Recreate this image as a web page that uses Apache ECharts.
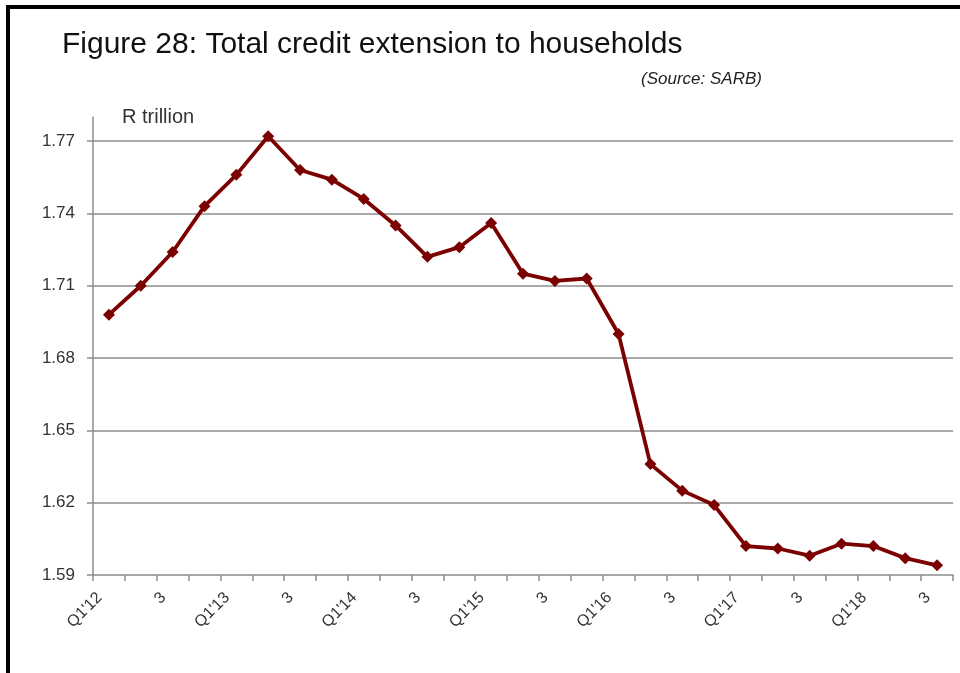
<!DOCTYPE html>
<html>
<head>
<meta charset="utf-8">
<title>Total credit extension to households</title>
<script src="https://cdn.jsdelivr.net/npm/echarts@6/dist/echarts.min.js"></script>
<style>
  html, body { margin: 0; padding: 0; background: #ffffff; }
  #chart { width: 960px; height: 673px; }
</style>
</head>
<body>
<div id="chart"></div>
<script>
// Quarterly categories, Q1 2012 to Q3 2018
const quarters = [
  "Q1'12", "2", "3", "4",
  "Q1'13", "2", "3", "4",
  "Q1'14", "2", "3", "4",
  "Q1'15", "2", "3", "4",
  "Q1'16", "2", "3", "4",
  "Q1'17", "2", "3", "4",
  "Q1'18", "2", "3"
];

// Total household credit, R trillion
const householdCredit = [
  1.698, 1.710, 1.724, 1.743,
  1.756, 1.772, 1.758, 1.754,
  1.746, 1.735, 1.722, 1.726,
  1.736, 1.715, 1.712, 1.713,
  1.690, 1.636, 1.625, 1.619,
  1.602, 1.601, 1.598, 1.603,
  1.602, 1.597, 1.594
];

// Value-axis tick labels
const yTicks = [1.59, 1.62, 1.65, 1.68, 1.71, 1.74, 1.77];

const chart = echarts.init(document.getElementById('chart'), null, { renderer: 'canvas' });

chart.setOption({
  backgroundColor: '#ffffff',
  animation: false,
  title: [
    {
      text: 'Figure 28: Total credit extension to households',
      left: 57,
      top: 25,
      textStyle: { fontFamily: 'Liberation Sans', fontSize: 30, fontWeight: 'normal', color: '#111111' }
    },
    {
      text: '(Source: SARB)',
      left: 636,
      top: 66,
      textStyle: { fontFamily: 'Liberation Sans', fontSize: 17, fontStyle: 'italic', fontWeight: 'normal', color: '#222222' }
    }
  ],
  graphic: [
    // frame edges along the top and left
    { type: 'rect', left: 6, top: 5, shape: { width: 954, height: 4 }, style: { fill: '#000000' } },
    { type: 'rect', left: 6, top: 5, shape: { width: 4, height: 668 }, style: { fill: '#000000' } }
  ],
  grid: { left: 93, right: 7, top: 117, bottom: 98, containLabel: false },
  xAxis: {
    type: 'category',
    data: quarters,
    boundaryGap: true,
    axisLine: { lineStyle: { color: '#8c8c8c', width: 1.5 } },
    axisTick: { show: true, alignWithLabel: false, interval: 0, length: 6, lineStyle: { color: '#8c8c8c', width: 1.5 } },
    axisLabel: {
      interval: 1,
      rotate: 45,
      margin: 11,
      padding: [0, 13, 0, 0],
      fontFamily: 'Liberation Sans',
      fontSize: 16,
      color: '#333333'
    },
    splitLine: { show: false }
  },
  yAxis: {
    type: 'value',
    name: 'R trillion',
    nameLocation: 'end',
    nameGap: 0,
    nameTextStyle: { fontFamily: 'Liberation Sans', fontSize: 20, color: '#333333', align: 'left', verticalAlign: 'middle', padding: [0, 0, 0, 29] },
    min: 1.59,
    max: 1.78,
    interval: 0.03,
    axisLine: { show: true, lineStyle: { color: '#8c8c8c', width: 1.5 } },
    axisTick: { show: true, length: 6, customValues: yTicks, lineStyle: { color: '#8c8c8c', width: 1.5 } },
    axisLabel: {
      customValues: yTicks,
      margin: 18,
      fontFamily: 'Liberation Sans',
      fontSize: 17,
      color: '#333333',
      formatter: v => v.toFixed(2)
    },
    splitLine: { show: true, showMinLine: false, showMaxLine: true, lineStyle: { color: '#8c8c8c', width: 1.5 } }
  },
  series: [
    {
      type: 'line',
      data: householdCredit,
      symbol: 'diamond',
      symbolSize: 12,
      lineStyle: { color: '#7b0000', width: 3.8 },
      itemStyle: { color: '#7b0000' },
      z: 5
    }
  ]
});
</script>
</body>
</html>
